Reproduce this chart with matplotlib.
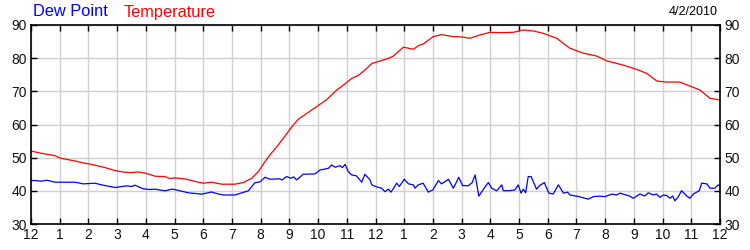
import matplotlib
matplotlib.use("Agg")
import matplotlib.pyplot as plt

plt.rcParams["font.family"] = ["Liberation Sans", "DejaVu Sans"]

# hours since midnight, degrees F
temp_hours = [0, 0.37, 0.84, 1.0, 1.53, 1.88, 2.1, 2.58, 2.93, 3.27, 3.5, 3.74,
              4.0, 4.32, 4.67, 4.84, 5.0, 5.36, 5.83, 6.0, 6.29, 6.64, 7.1, 7.4,
              7.69, 7.92, 8.15, 8.32, 8.61, 9.14, 9.31, 9.6, 9.95, 10.3, 10.65,
              10.9, 11.17, 11.4, 11.63, 11.87, 12.1, 12.39, 12.6, 12.97, 13.32,
              13.5, 13.67, 14.01, 14.3, 14.7, 15.0, 15.29, 15.64, 15.99, 16.34,
              16.8, 17.15, 17.5, 17.84, 18.31, 18.77, 19.24, 19.7, 20.05, 20.63,
              21.1, 21.45, 21.8, 22.14, 22.6, 23.3, 23.65, 24.0]
temp_vals = [52.0, 51.3, 50.6, 49.9, 49.0, 48.3, 48.0, 47.0, 46.1, 45.6, 45.5, 45.7,
             45.3, 44.4, 44.3, 43.7, 43.9, 43.6, 42.6, 42.3, 42.6, 42.0, 42.0, 42.5,
             43.8, 45.8, 48.8, 50.8, 53.8, 59.9, 61.6, 63.3, 65.4, 67.5, 70.4,
             72.0, 73.9, 74.8, 76.4, 78.4, 79.0, 79.75, 80.5, 83.3, 82.7,
             83.8, 84.3, 86.5, 87.1, 86.5, 86.4, 86.0, 87.0, 87.8, 87.7,
             87.8, 88.5, 88.2, 87.5, 86.0, 83.0, 81.5, 80.65, 79.2, 77.9,
             76.6, 75.4, 73.1, 72.8, 72.8, 70.4, 67.9, 67.4]

dew_hours = [0, 0.18, 0.35, 0.55, 0.84, 1.53, 1.82, 2.23, 2.46, 2.93, 3.1, 3.33,
             3.5, 3.62, 3.91, 4.14, 4.32, 4.67, 4.9, 5.0, 5.48, 5.95, 6.29, 6.5,
             6.7, 7.1, 7.34, 7.57, 7.8, 7.98, 8.15, 8.32, 8.66, 8.75, 8.9, 9.05,
             9.15, 9.25, 9.35, 9.48, 9.89, 10.07, 10.2, 10.36, 10.47, 10.6, 10.76,
             10.85, 10.94, 11.05, 11.17, 11.34, 11.52, 11.63, 11.81, 11.87, 12.04,
             12.21, 12.33, 12.45, 12.54, 12.74, 12.83, 13.0, 13.15, 13.32, 13.37,
             13.49, 13.66, 13.84, 14.0, 14.19, 14.3, 14.48, 14.54, 14.71, 14.83,
             14.9, 15.03, 15.23, 15.37, 15.47, 15.6, 15.76, 15.93, 16.05, 16.22,
             16.4, 16.45, 16.68, 16.86, 16.97, 17.07, 17.15, 17.23, 17.32, 17.42,
             17.61, 17.72, 17.88, 18.04, 18.19, 18.37, 18.55, 18.69, 18.77, 19.06,
             19.41, 19.59, 19.82, 19.99, 20.23, 20.4, 20.52, 20.86, 20.98, 21.21,
             21.38, 21.5, 21.68, 21.79, 21.91, 22.02, 22.14, 22.26, 22.35, 22.43,
             22.55, 22.66, 22.84, 22.95, 23.07, 23.28, 23.36, 23.54, 23.65, 23.82,
             23.94, 24.0]
dew_vals = [43.1, 43.1, 42.9, 43.2, 42.6, 42.6, 42.1, 42.3, 41.8, 41.0, 41.2, 41.5,
            41.3, 41.7, 40.6, 40.4, 40.5, 40.0, 40.5, 40.4, 39.4, 39.0, 39.65, 39.1,
            38.75, 38.75, 39.4, 40.0, 42.45, 42.7, 44.1, 43.5, 43.6, 43.3, 44.3, 43.8,
            44.2, 43.3, 44.0, 45.0, 45.1, 46.3, 46.5, 46.8, 47.8, 47.1, 47.6,
            47.0, 48.0, 45.8, 44.8, 44.5, 42.6, 45.0, 43.3, 41.8, 41.2,
            40.8, 39.75, 40.5, 39.6, 42.3, 41.3, 43.5, 42.1, 41.8, 40.8,
            41.8, 42.3, 39.6, 40.3, 43.1, 42.1, 43.1, 43.5, 40.8, 42.8,
            44.1, 41.6, 41.5, 42.5, 44.8, 38.4, 40.5, 42.5, 40.8, 40.0,
            41.8, 40.05, 40.05, 40.3, 41.8, 39.3, 40.5, 39.4, 44.3, 44.3,
            40.5, 41.6, 42.5, 39.3, 39.05, 41.8, 39.3, 39.6, 38.75, 38.3,
            37.5, 38.25, 38.4, 38.25, 39.0, 38.75, 39.3, 38.4, 37.75, 39.05,
            38.45, 39.4, 38.75, 39.05, 38.05, 38.75, 38.6, 37.75, 38.45, 37.0,
            38.25, 40.05, 38.45, 37.75, 39.05, 40.05, 42.3, 42.1, 40.8, 40.8,
            41.8, 41.5]

x_ticks = list(range(25))
x_labels = ["12"] + [str(h) for h in range(1, 12)] + ["12"] + [str(h) for h in range(1, 12)] + ["12"]
y_ticks = [30, 40, 50, 60, 70, 80, 90]

fig = plt.figure(figsize=(7.5, 2.5), dpi=100, facecolor="white")
ax = fig.add_axes([31 / 750, 1 - 224 / 250, 689 / 750, 199 / 250])

ax.plot(temp_hours, temp_vals, color="#ff0000", linewidth=0.9)
ax.plot(dew_hours, dew_vals, color="#0000ff", linewidth=0.9)

ax.set_xlim(0, 24)
ax.set_ylim(30, 90)
ax.set_xticks(x_ticks)
ax.set_xticklabels(x_labels)
ax.set_yticks(y_ticks)
ax.grid(True, color="#d0d0d0", linewidth=1.0)
ax.set_axisbelow(True)

ax.tick_params(axis="both", direction="in", length=4.5, width=1, color="black",
               labelsize=10, labelcolor="#111111", top=True, right=True,
               labelright=True, pad=3)
for sp in ax.spines.values():
    sp.set_color("black")
    sp.set_linewidth(1.2)

fig.text(33 / 750, 1 - 12 / 250, "Dew Point", color="#0000ff", fontsize=11.8, va="center", ha="left")
fig.text(124 / 750, 1 - 12 / 250, "Temperature", color="#ff0000", fontsize=11.8, va="center", ha="left")
fig.text(718 / 750, 1 - 12 / 250, "4/2/2010", color="black", fontsize=9, va="center", ha="right")

fig.savefig("out.png", dpi=100, facecolor="white")
